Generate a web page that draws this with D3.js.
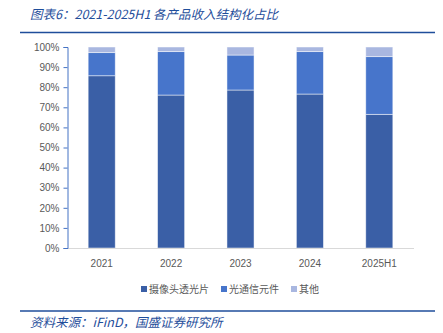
<!DOCTYPE html>
<html><head><meta charset="utf-8">
<script src="https://cdn.jsdelivr.net/npm/d3@7/dist/d3.min.js"></script>
<style>body{margin:0;background:#fff;}svg{display:block;font-family:"Noto Sans CJK SC","DejaVu Sans",sans-serif;}</style>
</head><body>
<svg id="c" width="443" height="333"></svg>
<script>
const categories = ["2021","2022","2023","2024","2025H1"];
const seriesNames = ["摄像头透光片","光通信元件","其他"];
const camera = [85.7, 76.1, 78.6, 76.6, 66.5];
const optical = [11.5, 21.6, 17.4, 21.1, 28.7];
const other = [2.8, 2.3, 4.0, 2.3, 4.8];
const yTicks = [0,10,20,30,40,50,60,70,80,90,100];
const colors = ["#3A5FA6","#4775CB","#A9B7E0"];

const svg = d3.select("#c");
const rows = categories.map((c,i)=>({cat:c, s0:camera[i], s1:optical[i], s2:other[i]}));
const stack = d3.stack().keys(["s0","s1","s2"])(rows);

const x = d3.scaleBand().domain(categories).range([67,414]).paddingInner(0.61).paddingOuter(0.305);
const y = d3.scaleLinear().domain([0,100]).range([248,47]);

// title
svg.append("text").attr("x",30).attr("y",19).attr("fill","#1F4E9B")
  .attr("font-size",12.5).attr("font-style","italic").attr("font-weight",400)
  .text("图表6：2021-2025H1 各产品收入结构化占比");
svg.append("line").attr("x1",20).attr("x2",435).attr("y1",32.5).attr("y2",32.5)
  .attr("stroke","#1F4E9B").attr("stroke-width",1.5);

// bars
svg.append("g").selectAll("g").data(stack).join("g")
  .attr("fill",(d,i)=>colors[i])
  .selectAll("rect").data(d=>d).join("rect")
  .attr("x",d=>x(d.data.cat)).attr("width",x.bandwidth())
  .attr("y",d=>y(d[1])).attr("height",d=>y(d[0])-y(d[1]))
  .attr("stroke","#ffffff").attr("stroke-opacity",0.6).attr("stroke-width",0.8);

// x axis baseline
svg.append("line").attr("x1",67).attr("x2",414).attr("y1",248.5).attr("y2",248.5)
  .attr("stroke","#D9D9D9").attr("stroke-width",1);

// y axis
const yAxis = svg.append("g").attr("transform","translate(67.5,0)")
  .call(d3.axisLeft(y).tickValues(yTicks).tickFormat(d=>d+"%").tickSize(4).tickSizeOuter(4));
yAxis.selectAll("path,line").attr("stroke","#4472C4");
yAxis.selectAll("text").attr("fill","#595959").attr("font-size",10)
  .attr("font-family","Liberation Sans, Arial, sans-serif").attr("x",-8);

// x labels
const xAxis = svg.append("g").attr("transform","translate(0,248)")
  .call(d3.axisBottom(x).tickSize(0).tickPadding(12));
xAxis.select(".domain").remove();
xAxis.selectAll("text").attr("fill","#595959").attr("font-size",10)
  .attr("font-family","Liberation Sans, Arial, sans-serif");

// legend
const legendX = [141, 221, 291];
const lg = svg.append("g").selectAll("g").data(seriesNames).join("g")
  .attr("transform",(d,i)=>`translate(${legendX[i]},290)`);
lg.append("rect").attr("x",0).attr("y",-4).attr("width",6).attr("height",6)
  .attr("fill",(d,i)=>colors[i]);
lg.append("text").attr("x",8).attr("y",3).attr("font-size",10).attr("fill","#595959").text(d=>d);

// footer
svg.append("line").attr("x1",20).attr("x2",435).attr("y1",311).attr("y2",311)
  .attr("stroke","#1F4E9B").attr("stroke-width",1.5);
svg.append("text").attr("x",30).attr("y",327).attr("fill","#1F4E9B")
  .attr("font-size",12.5).attr("font-style","italic").attr("font-weight",400)
  .text("资料来源：iFinD，国盛证券研究所");
</script>
</body></html>
